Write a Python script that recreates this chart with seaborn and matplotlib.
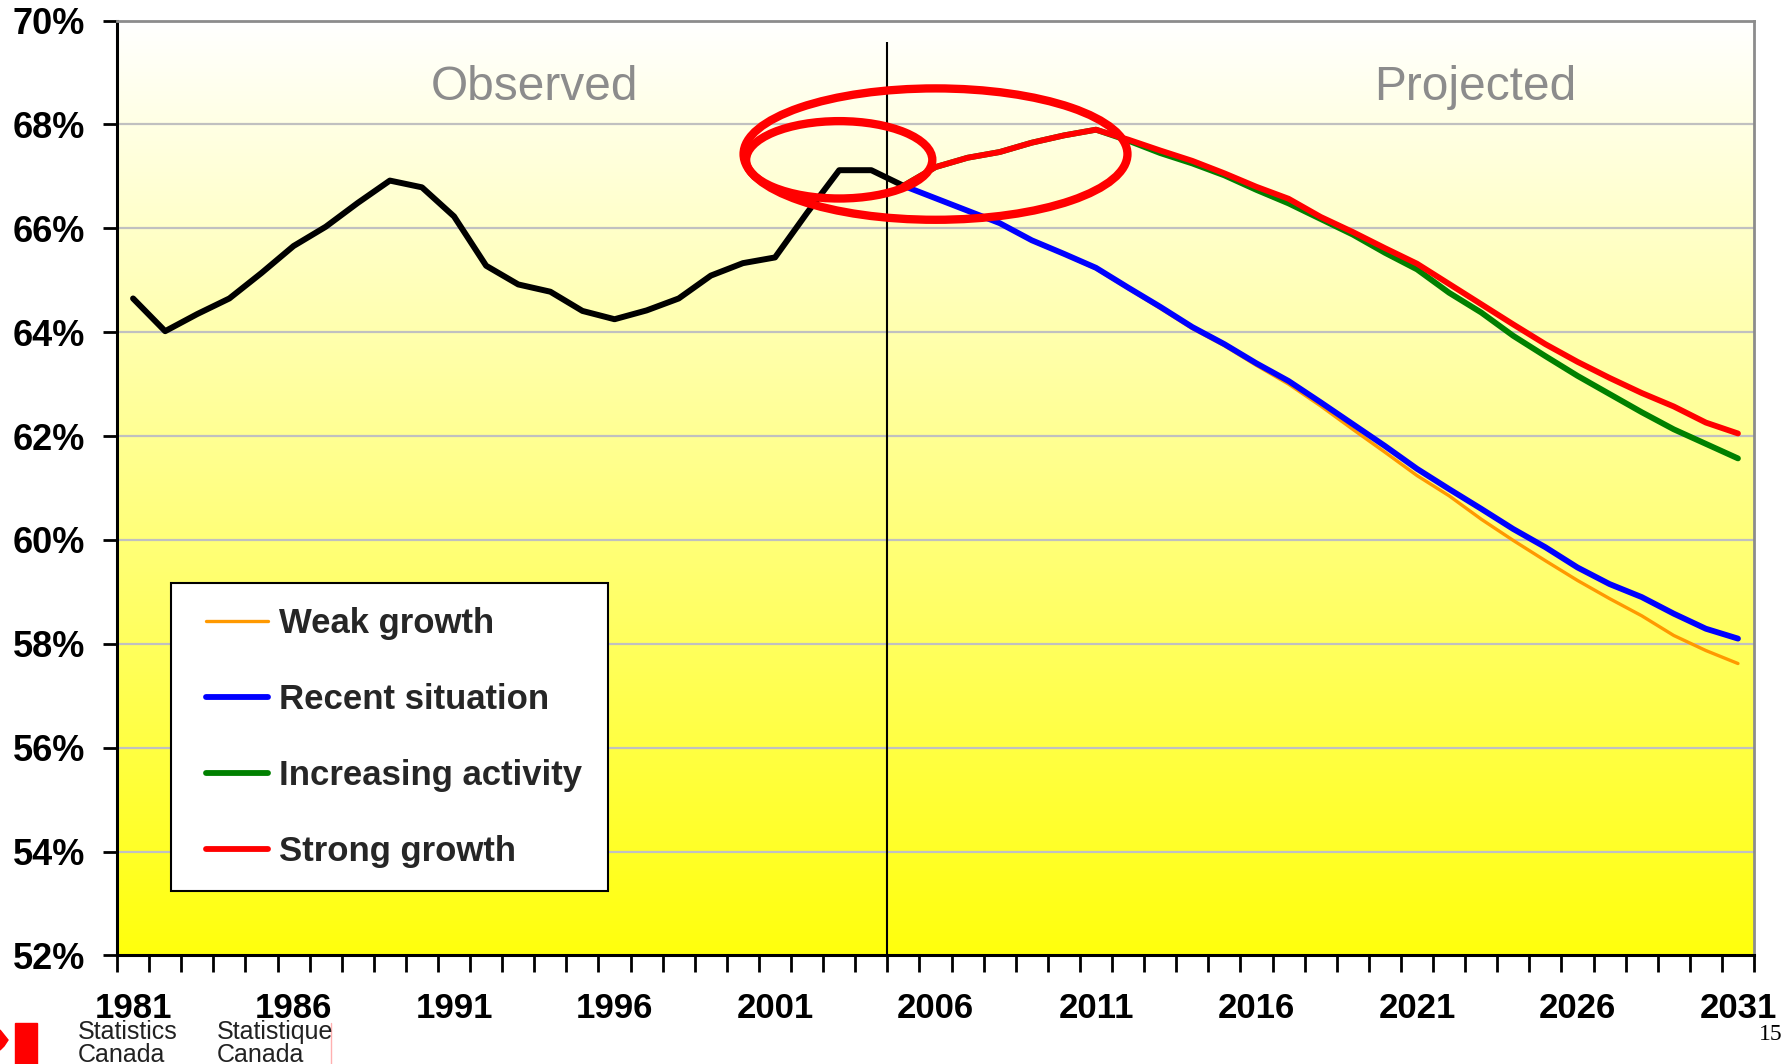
import numpy as np
import pandas as pd
import matplotlib
matplotlib.use("Agg")
import matplotlib.pyplot as plt
import seaborn as sns
from matplotlib.patches import Ellipse, Rectangle, Polygon
from matplotlib.lines import Line2D
from matplotlib.ticker import FixedLocator

# ---------------- data ----------------
years_obs = list(range(1981, 2006))
observed = [64.65, 64.02, 64.35, 64.65, 65.14, 65.66, 66.03, 66.49, 66.92, 66.79,
            66.23, 65.28, 64.92, 64.78, 64.41, 64.25, 64.42, 64.65, 65.09, 65.33,
            65.44, 66.30, 67.12, 67.12, 66.82]

years_proj = list(range(2005, 2032))
weak_growth = [66.82, 66.57, 66.33, 66.09, 65.76, 65.50, 65.22, 64.84, 64.46, 64.07,
               63.74, 63.36, 63.00, 62.58, 62.13, 61.69, 61.24, 60.85, 60.40, 59.99,
               59.60, 59.22, 58.87, 58.54, 58.16, 57.87, 57.62]
recent_situation = [66.82, 66.58, 66.34, 66.10, 65.77, 65.51, 65.24, 64.86, 64.49, 64.10,
                    63.77, 63.40, 63.06, 62.65, 62.23, 61.81, 61.37, 60.98, 60.60, 60.21,
                    59.86, 59.47, 59.15, 58.90, 58.58, 58.29, 58.10]
increasing_activity = [66.82, 67.18, 67.36, 67.47, 67.65, 67.79, 67.90, 67.69, 67.45, 67.25,
                       67.02, 66.74, 66.48, 66.18, 65.88, 65.53, 65.21, 64.76, 64.38, 63.93,
                       63.54, 63.16, 62.81, 62.46, 62.13, 61.85, 61.57]
strong_growth = [66.82, 67.18, 67.36, 67.47, 67.65, 67.79, 67.90, 67.71, 67.50, 67.30,
                 67.06, 66.80, 66.57, 66.22, 65.93, 65.62, 65.32, 64.93, 64.54, 64.15,
                 63.77, 63.43, 63.12, 62.83, 62.57, 62.26, 62.05]

scenario_names = ["Weak growth", "Recent situation", "Increasing activity", "Strong growth"]
scenario_values = [weak_growth, recent_situation, increasing_activity, strong_growth]
scenario_colors = ["#FF9900", "#0000FF", "#008000", "#FF0000"]
scenario_widths = [2.4, 4.2, 4.2, 4.2]

y_ticks = list(range(52, 71, 2))
x_labels = list(range(1981, 2032, 5))

# ---------------- figure ----------------
sns.set_theme(style="white")
plt.rcParams["font.family"] = ["Liberation Sans", "DejaVu Sans"]

fig = plt.figure(figsize=(17.92, 10.64), dpi=100)
ax = fig.add_axes([0.0653, 0.1021, 0.9788 - 0.0653, 0.9806 - 0.1021])

# gradient background (white top -> yellow bottom)
rgb = np.ones((256, 1, 3))
rgb[..., 2] = np.linspace(1.0, 0.05, 256).reshape(-1, 1)
ax.imshow(rgb, extent=[0, 1, 0, 1], transform=ax.transAxes, aspect="auto",
          zorder=0, interpolation="bilinear")

# gridlines
for v in y_ticks[1:-1]:
    ax.axhline(v, color="#C0C0C0", lw=1.6, zorder=1)

# observed
df_obs = pd.DataFrame({"year": years_obs, "value": observed})
sns.lineplot(data=df_obs, x="year", y="value", ax=ax, color="black", lw=4.3,
             zorder=3, legend=False)

# projections
order_z = [4, 5, 6, 7]
for name, vals, col, lw, z in zip(scenario_names, scenario_values, scenario_colors,
                                   scenario_widths, order_z):
    d = pd.DataFrame({"year": years_proj, "value": vals})
    sns.lineplot(data=d, x="year", y="value", ax=ax, color=col, lw=lw, zorder=z,
                 legend=False, solid_capstyle="round")

# vertical divider
ax.vlines(2004.5, 52, 69.58, color="black", lw=1.5, zorder=8)

# red annotation ellipses
ax.add_patch(Ellipse((2006.0, 67.43), 11.96, 2.53, fill=False, ec="#FF0000",
                     lw=6, zorder=9))
ax.add_patch(Ellipse((2003.0, 67.32), 5.8, 1.49, fill=False, ec="#FF0000",
                     lw=6, zorder=9))

# section labels
ax.text(1993.5, 68.72, "Observed", ha="center", va="center", fontsize=34.5,
        color="#8C8C8C", zorder=9)
ax.text(2022.8, 68.72, "Projected", ha="center", va="center", fontsize=34.5,
        color="#8C8C8C", zorder=9)

# axes limits / ticks
ax.set_xlim(1980.5, 2031.5)
ax.set_ylim(52, 70)
ax.set_xlabel("")
ax.set_ylabel("")
ax.yaxis.set_major_locator(FixedLocator(y_ticks))
ax.set_yticklabels([f"{v}%" for v in y_ticks])
ax.xaxis.set_major_locator(FixedLocator(x_labels))
ax.set_xticklabels([str(v) for v in x_labels])
ax.xaxis.set_minor_locator(FixedLocator(np.arange(1980.5, 2032, 1.0)))
ax.tick_params(axis="x", which="major", length=0, pad=26.5, labelsize=25,
               labelcolor="black")
ax.tick_params(axis="x", which="minor", length=12, width=2.0, color="black",
               direction="out", bottom=True)
ax.tick_params(axis="y", which="major", length=10, width=2.0, color="black",
               direction="out", left=True, pad=13, labelsize=26, labelcolor="black")
for lab in ax.get_xticklabels() + ax.get_yticklabels():
    lab.set_fontweight("bold")

for s in ["left", "bottom"]:
    ax.spines[s].set_color("black")
    ax.spines[s].set_linewidth(2.2)
for s in ["top", "right"]:
    ax.spines[s].set_color("#8C8C8C")
    ax.spines[s].set_linewidth(2)
    ax.spines[s].set_visible(True)

# legend: frame drawn as a box, entries placed inside it
ax.add_patch(Rectangle((0.033, 0.0689), 0.2669, 0.3291, transform=ax.transAxes,
                       facecolor="white", edgecolor="black", lw=1.5, zorder=10))
handles = [Line2D([0], [0], color=c, lw=w) for c, w in zip(scenario_colors, scenario_widths)]
leg = ax.legend(handles, scenario_names, loc="upper left",
                bbox_to_anchor=(0.0542, 0.3725), frameon=False,
                prop={"weight": "bold", "size": 25}, handlelength=1.8,
                handletextpad=0.3, labelspacing=1.24, borderpad=0,
                borderaxespad=0)
leg.set_zorder(11)

# footer: Statistics Canada signature
fig.patches.append(Rectangle((15 / 1792, 0), 22 / 1792, 41 / 1064,
                             transform=fig.transFigure, color="#FF0000"))
fig.patches.append(Polygon([(0, 1 - 1030 / 1064), (8 / 1792, 1 - 1040 / 1064),
                            (4 / 1792, 1 - 1046 / 1064), (0, 1 - 1050 / 1064)],
                           closed=True, transform=fig.transFigure, color="#FF0000"))
for xpos, word in [(78, "Statistics"), (217, "Statistique")]:
    fig.text(xpos / 1792, 1 - 1039 / 1064, word, fontsize=18, color="#222222",
             va="baseline", ha="left")
    fig.text(xpos / 1792, 1 - 1061.5 / 1064, "Canada", fontsize=18, color="#222222",
             va="baseline", ha="left")
fig.lines.append(Line2D([331 / 1792, 331 / 1792], [0, 41 / 1064],
                        transform=fig.transFigure, color="#FFB0B0", lw=1))
fig.text(1771 / 1792, 1 - 1035 / 1064, "15", fontsize=17, color="black",
         family=["Liberation Serif", "DejaVu Serif"], ha="center", va="center")

fig.savefig("out.png", dpi=100, facecolor="white")
